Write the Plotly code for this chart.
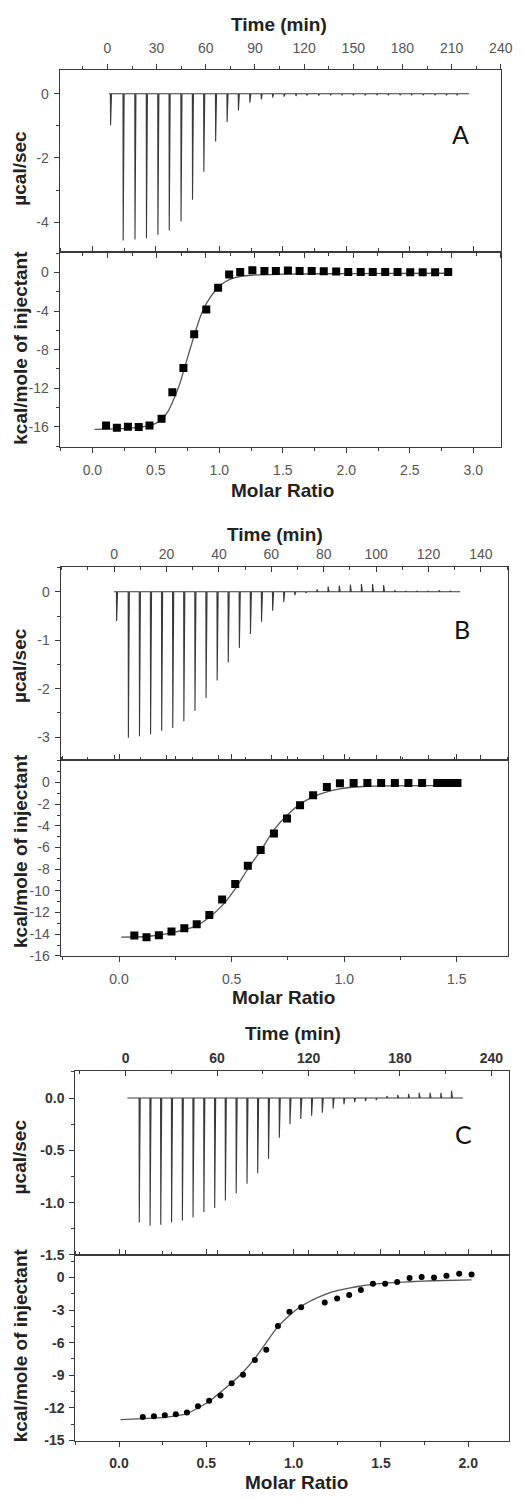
import plotly.graph_objects as go

# ---------------- DATA ----------------
# Panel A raw thermogram
A_time_start, A_time_end = 1.0, 220.6
A_inj_time = [1.8, 9.5, 16.7, 23.7, 30.7, 37.6, 44.8, 51.8, 58.7, 65.9, 72.9, 79.8, 86.8, 93.8,
              100.7, 107.7, 114.9, 121.6, 128.8, 136.0, 142.9, 149.9, 157.1, 164.3, 171.2,
              178.4, 185.4, 192.5, 199.7, 206.7, 213.2]
A_peak = [-0.98, -4.57, -4.54, -4.50, -4.39, -4.26, -3.98, -3.30, -2.43, -1.49, -0.88, -0.52,
          -0.28, -0.18, -0.12, -0.09, -0.07, -0.06, -0.06, -0.05, -0.05, -0.05, -0.05, -0.05,
          -0.05, -0.05, -0.05, -0.05, -0.05, -0.05, -0.05]
# Panel A integrated heats
A_ratio = [0.108, 0.193, 0.280, 0.365, 0.450, 0.545, 0.630, 0.717, 0.802, 0.897, 0.990, 1.077,
           1.164, 1.260, 1.355, 1.445, 1.540, 1.632, 1.727, 1.822, 1.920, 2.015, 2.113, 2.208,
           2.306, 2.403, 2.503, 2.601, 2.699, 2.802]
A_heat = [-15.86, -16.10, -15.99, -16.03, -15.86, -15.17, -12.42, -9.91, -6.40, -3.82, -1.58,
          -0.21, 0.07, 0.24, 0.17, 0.17, 0.21, 0.17, 0.17, 0.14, 0.10, 0.07, 0.07, 0.07, 0.07,
          0.07, 0.03, 0.03, 0.03, 0.07]
A_fit_x = [0.018, 0.224, 0.378, 0.481, 0.545, 0.597, 0.640, 0.686, 0.725, 0.764, 0.802, 0.841,
           0.880, 0.931, 0.990, 1.046, 1.123, 1.252, 1.509, 2.023, 2.802]
A_fit_y = [-16.27, -16.20, -16.03, -15.76, -15.24, -14.38, -13.18, -11.63, -9.91, -8.19, -6.54,
           -4.92, -3.65, -2.51, -1.58, -0.96, -0.52, -0.28, -0.17, -0.10, -0.07]

# Panel B raw thermogram
B_time_start, B_time_end = 0.0, 132.1
B_inj_time = [0.87, 5.36, 9.59, 13.83, 18.07, 22.30, 26.54, 30.78, 35.01, 39.25, 43.48, 47.72,
              51.96, 56.19, 60.43, 64.67, 68.90, 73.14, 77.38, 81.61, 85.85, 90.09, 94.32,
              98.56, 102.80, 107.03, 111.27, 115.51, 119.74, 123.98, 128.21]
B_peak = [-0.60, -3.01, -2.98, -2.94, -2.87, -2.81, -2.67, -2.46, -2.19, -1.83, -1.46, -1.16,
          -0.87, -0.62, -0.39, -0.21, -0.07, -0.02, 0.05, 0.11, 0.13, 0.15, 0.16, 0.16, 0.14,
          0.03, 0.02, 0.02, 0.02, 0.03, 0.02]
# Panel B integrated heats
B_ratio = [0.068, 0.122, 0.177, 0.233, 0.290, 0.345, 0.401, 0.458, 0.516, 0.572, 0.629, 0.688,
           0.746, 0.804, 0.862, 0.923, 0.981, 1.042, 1.103, 1.164, 1.225, 1.285, 1.346, 1.413,
           1.428, 1.443, 1.458, 1.473, 1.488, 1.503]
B_heat = [-14.12, -14.27, -14.09, -13.75, -13.44, -13.08, -12.22, -10.80, -9.36, -7.67, -6.23,
          -4.70, -3.32, -2.09, -1.17, -0.40, -0.06, -0.05, -0.05, -0.05, -0.05, -0.05, -0.05,
          -0.05, -0.05, -0.05, -0.05, -0.05, -0.05, -0.05]
B_fit_x = [0.010, 0.123, 0.233, 0.345, 0.401, 0.458, 0.516, 0.572, 0.629, 0.688, 0.746, 0.804,
           0.862, 0.923, 0.981, 1.103, 1.346, 1.514]
B_fit_y = [-14.27, -14.21, -13.87, -13.20, -12.43, -11.36, -9.82, -7.98, -6.29, -4.36, -3.01,
           -1.99, -1.32, -0.86, -0.58, -0.34, -0.28, -0.28]

# Panel C raw thermogram
C_time_start, C_time_end = 1.1, 221.3
C_inj_time = [8.8, 15.9, 22.9, 30.0, 37.1, 44.1, 51.2, 58.3, 65.3, 72.4, 79.5, 86.5, 93.6,
              100.7, 107.7, 114.8, 121.9, 128.9, 136.0, 143.1, 150.1, 157.2, 164.3, 171.3,
              178.4, 185.5, 192.5, 199.6, 206.7, 213.7]
C_peak = [-1.19, -1.22, -1.21, -1.19, -1.17, -1.14, -1.09, -1.05, -0.98, -0.91, -0.82, -0.72,
          -0.58, -0.38, -0.25, -0.20, -0.17, -0.14, -0.10, -0.06, -0.04, -0.03, -0.02, 0.02,
          0.03, 0.04, 0.05, 0.05, 0.05, 0.07]
# Panel C integrated heats
C_ratio = [0.136, 0.200, 0.262, 0.325, 0.389, 0.452, 0.516, 0.581, 0.645, 0.710, 0.778, 0.843,
           0.910, 0.976, 1.043, 1.178, 1.249, 1.318, 1.385, 1.454, 1.524, 1.593, 1.664, 1.733,
           1.804, 1.875, 1.948, 2.019]
C_heat = [-12.83, -12.76, -12.67, -12.58, -12.43, -11.85, -11.34, -10.85, -9.73, -8.94, -7.60,
          -6.66, -4.47, -3.16, -2.74, -2.31, -1.95, -1.61, -1.16, -0.58, -0.58, -0.43, -0.06,
          0.03, 0.00, 0.15, 0.33, 0.27]
C_fit_x = [0.009, 0.136, 0.262, 0.389, 0.452, 0.516, 0.581, 0.645, 0.710, 0.778, 0.843, 0.910,
           0.976, 1.043, 1.112, 1.178, 1.249, 1.318, 1.385, 1.454, 1.524, 1.664, 1.804, 2.019]
C_fit_y = [-13.07, -12.98, -12.86, -12.52, -12.00, -11.40, -10.55, -9.70, -8.72, -7.45, -5.99,
           -4.53, -3.50, -2.65, -2.04, -1.58, -1.22, -0.98, -0.79, -0.64, -0.52, -0.40, -0.31,
           -0.22]

# Tick labels
A_time_ticks = [0, 30, 60, 90, 120, 150, 180, 210, 240]
A_raw_ticks = [0, -2, -4]
A_raw_text = ["0", "-2", "-4"]
A_heat_ticks = [0, -4, -8, -12, -16]
A_heat_text = ["0", "-4", "-8", "-12", "-16"]
A_ratio_ticks = [0.0, 0.5, 1.0, 1.5, 2.0, 2.5, 3.0]

B_time_ticks = [0, 20, 40, 60, 80, 100, 120, 140]
B_raw_ticks = [0, -1, -2, -3]
B_raw_text = ["0", "-1", "-2", "-3"]
B_heat_ticks = [0, -2, -4, -6, -8, -10, -12, -14, -16]
B_heat_text = ["0", "-2", "-4", "-6", "-8", "-10", "-12", "-14", "-16"]
B_ratio_ticks = [0.0, 0.5, 1.0, 1.5]

C_time_ticks = [0, 60, 120, 180, 240]
C_raw_ticks = [0.0, -0.5, -1.0, -1.5]
C_raw_text = ["0.0", "-0.5", "-1.0", "-1.5"]
C_heat_ticks = [0, -3, -6, -9, -12, -15]
C_heat_text = ["0", "-3", "-6", "-9", "-12", "-15"]
C_ratio_ticks = [0.0, 0.5, 1.0, 1.5, 2.0]

# ---------------- FIGURE ----------------
W, H = 525, 1501
def px(x):
    return x / W
def py(y):
    return 1 - y / H

LINE = "#3a3a3a"
TICKFONT = dict(family="Liberation Sans Narrow, Arial Narrow, Liberation Sans, Arial", size=14, color="#555555")
TICKFONT_C = dict(family="Liberation Sans, Arial", size=14, color="#333333", weight="bold")
TITLEFONT = dict(family="Liberation Sans, Arial", size=19, color="#222222", weight="bold")
LABELFONT = dict(family="Lato, Open Sans, sans-serif", size=25, color="#111111")


def raw_xy(t0, t1, times, heights, a, b):
    xs, ys = [t0], [0.0]
    for t, h in zip(times, heights):
        xs += [t, t + a, t + b]
        ys += [0.0, h, 0.0]
    xs.append(t1)
    ys.append(0.0)
    return xs, ys


fig = go.Figure()

panels = [
    dict(name="A", raw=(A_time_start, A_time_end, A_inj_time, A_peak, 0.12, 0.7),
         ratio=A_ratio, heat=A_heat, fx=A_fit_x, fy=A_fit_y, sym="square", msize=8,
         xdom=(61, 512), ytop=(70, 253), ybot=(253, 449),
         trange=(-29.1, 240.3), tticks=A_time_ticks, tminor=15, tdir="outside", tstand=5,
         rrange=(-4.92, 0.75), rticks=A_raw_ticks, rtext=A_raw_text, rminor=1,
         hrange=(-18.06, 2.17), hticks=A_heat_ticks, htext=A_heat_text, hminor=2,
         mrange=(-0.257, 3.22), mticks=A_ratio_ticks, mminor=0.25, tf=TICKFONT),
    dict(name="B", raw=(B_time_start, B_time_end, B_inj_time, B_peak, 0.08, 0.45),
         ratio=B_ratio, heat=B_heat, fx=B_fit_x, fy=B_fit_y, sym="square", msize=8,
         xdom=(62, 519), ytop=(570, 764), ybot=(764, 961),
         trange=(-20.4, 150.4), tticks=B_time_ticks, tminor=10, tdir="inside", tstand=1,
         rrange=(-3.47, 0.513), rticks=B_raw_ticks, rtext=B_raw_text, rminor=0.5,
         hrange=(-16.0, 2.09), hticks=B_heat_ticks, htext=B_heat_text, hminor=1,
         mrange=(-0.259, 1.728), mticks=B_ratio_ticks, mminor=0.25, tf=TICKFONT),
    dict(name="C", raw=(C_time_start, C_time_end, C_inj_time, C_peak, 0.12, 0.75),
         ratio=C_ratio, heat=C_heat, fx=C_fit_x, fy=C_fit_y, sym="circle", msize=6,
         xdom=(77, 520), ytop=(1077, 1261.7), ybot=(1261.7, 1448.3),
         trange=(-33.0, 251.6), tticks=C_time_ticks, tminor=30, tdir="inside", tstand=2,
         rrange=(-1.5, 0.256), rticks=C_raw_ticks, rtext=C_raw_text, rminor=0.25,
         hrange=(-15.0, 2.06), hticks=C_heat_ticks, htext=C_heat_text, hminor=1.5,
         mrange=(-0.25, 2.234), mticks=C_ratio_ticks, mminor=0.25, tf=TICKFONT_C),
]

layout = dict(width=W, height=H, margin=dict(l=0, r=0, t=0, b=0),
              paper_bgcolor="white", plot_bgcolor="white", showlegend=False)
annotations = []

for i, p in enumerate(panels):
    top = 2 * i + 1
    bot = 2 * i + 2
    rt = 7 + 2 * i
    rb = 8 + 2 * i
    xdom = [px(p["xdom"][0]), px(p["xdom"][1])]

    t0, t1, times, heights, a, b = p["raw"]
    rx, ry = raw_xy(t0, t1, times, heights, a, b)
    fig.add_trace(go.Scatter(x=rx, y=ry, mode="lines", line=dict(color="#3a3a3a", width=1.1),
                             xaxis=f"x{top}", yaxis=f"y{top}"))
    fig.add_trace(go.Scatter(x=p["fx"], y=p["fy"], mode="lines",
                             line=dict(color="#555555", width=1.3, shape="spline", smoothing=0.8),
                             xaxis=f"x{bot}", yaxis=f"y{bot}"))
    fig.add_trace(go.Scatter(x=p["ratio"], y=p["heat"], mode="markers",
                             marker=dict(symbol=p["sym"], size=p["msize"], color="black"),
                             xaxis=f"x{bot}", yaxis=f"y{bot}"))

    # top panel axes
    layout[f"xaxis{top}"] = dict(domain=xdom, anchor=f"y{top}", side="top", range=list(p["trange"]),
                                 tickvals=p["tticks"], ticks=p["tdir"], ticklen=5, tickcolor=LINE,
                                 minor=dict(dtick=p["tminor"], tick0=0, ticks=p["tdir"], ticklen=3, tickcolor=LINE),
                                 showline=True, linecolor=LINE, linewidth=1.2, mirror="ticks",
                                 showgrid=False, zeroline=False, tickfont=p["tf"],
                                 ticklabelstandoff=p["tstand"])
    layout[f"yaxis{top}"] = dict(domain=[py(p["ytop"][1]), py(p["ytop"][0])], anchor=f"x{top}",
                                 range=list(p["rrange"]), tickvals=p["rticks"], ticktext=p["rtext"],
                                 ticks="outside", ticklen=5, tickcolor=LINE,
                                 minor=dict(dtick=p["rminor"], tick0=0, ticks="outside", ticklen=3, tickcolor=LINE),
                                 showline=True, linecolor=LINE, linewidth=1.2, mirror=True,
                                 showgrid=False, zeroline=False, tickfont=p["tf"], ticklabelstandoff=2)
    layout[f"yaxis{rt}"] = dict(overlaying=f"y{top}", anchor=f"x{top}", side="right",
                                range=list(p["rrange"]), tickvals=p["rticks"], ticks="inside",
                                ticklen=6, tickcolor=LINE, showticklabels=False,
                                minor=dict(dtick=p["rminor"], tick0=0, ticks="inside", ticklen=3, tickcolor=LINE),
                                showline=False, showgrid=False, zeroline=False)

    # bottom panel axes
    layout[f"xaxis{bot}"] = dict(domain=xdom, anchor=f"y{bot}", side="bottom", range=list(p["mrange"]),
                                 tickvals=p["mticks"], ticktext=[f"{v:.1f}" for v in p["mticks"]],
                                 ticks="outside", ticklen=5, tickcolor=LINE,
                                 minor=dict(dtick=p["mminor"], tick0=0, ticks="outside", ticklen=3, tickcolor=LINE),
                                 showline=True, linecolor=LINE, linewidth=1.2, mirror="ticks",
                                 showgrid=False, zeroline=False, tickfont=p["tf"], ticklabelstandoff=5)
    layout[f"yaxis{bot}"] = dict(domain=[py(p["ybot"][1]), py(p["ybot"][0])], anchor=f"x{bot}",
                                 range=list(p["hrange"]), tickvals=p["hticks"], ticktext=p["htext"],
                                 ticks="outside", ticklen=5, tickcolor=LINE,
                                 minor=dict(dtick=p["hminor"], tick0=0, ticks="outside", ticklen=3, tickcolor=LINE),
                                 showline=True, linecolor=LINE, linewidth=1.2, mirror=True,
                                 showgrid=False, zeroline=False, tickfont=p["tf"], ticklabelstandoff=2)
    layout[f"yaxis{rb}"] = dict(overlaying=f"y{bot}", anchor=f"x{bot}", side="right",
                                range=list(p["hrange"]), tickvals=p["hticks"], ticks="inside",
                                ticklen=6, tickcolor=LINE, showticklabels=False,
                                minor=dict(dtick=p["hminor"], tick0=0, ticks="inside", ticklen=3, tickcolor=LINE),
                                showline=False, showgrid=False, zeroline=False)

title_pos = {
    "A": dict(time=(285, 25), ucal=(20, 169), kcal=(21, 350), molar=(289, 493), lab=(470, 135)),
    "B": dict(time=(281, 537), ucal=(20, 669), kcal=(21, 856), molar=(290, 1003), lab=(472, 632)),
    "C": dict(time=(299, 1039), ucal=(20, 1163), kcal=(21, 1353), molar=(303, 1490), lab=(473, 1140)),
}
for name, pos in title_pos.items():
    annotations.append(dict(text="Time (min)", x=px(pos["time"][0]), y=py(pos["time"][1]),
                            xref="paper", yref="paper", showarrow=False, font=TITLEFONT,
                            xanchor="center", yanchor="middle"))
    annotations.append(dict(text="µcal/sec", x=px(pos["ucal"][0]), y=py(pos["ucal"][1]),
                            xref="paper", yref="paper", showarrow=False, font=TITLEFONT,
                            textangle=-90, xanchor="center", yanchor="middle"))
    annotations.append(dict(text="kcal/mole of injectant", x=px(pos["kcal"][0]), y=py(pos["kcal"][1]),
                            xref="paper", yref="paper", showarrow=False, font=TITLEFONT,
                            textangle=-90, xanchor="center", yanchor="middle"))
    annotations.append(dict(text="Molar Ratio", x=px(pos["molar"][0]), y=py(pos["molar"][1]),
                            xref="paper", yref="paper", showarrow=False, font=TITLEFONT,
                            xanchor="center", yanchor="middle"))
    annotations.append(dict(text=name, x=px(pos["lab"][0]), y=py(pos["lab"][1]),
                            xref="paper", yref="paper", showarrow=False, font=LABELFONT,
                            xanchor="center", yanchor="middle"))

layout["annotations"] = annotations
fig.update_layout(**layout)
fig.write_html("out.html")
